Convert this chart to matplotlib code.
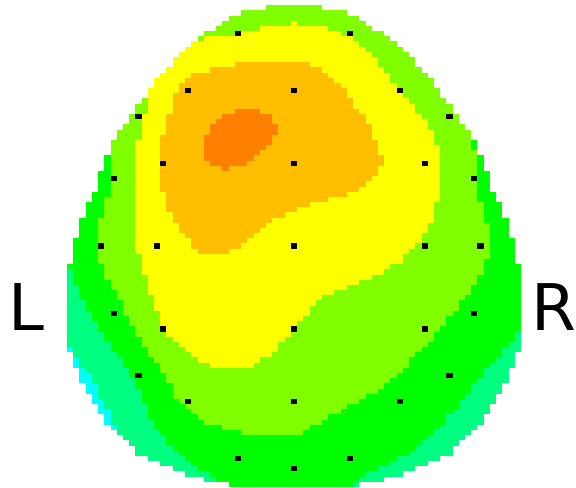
import numpy as np
import matplotlib.pyplot as plt
from matplotlib.colors import ListedColormap, BoundaryNorm

# electrode layout (scalp-map coordinates) and the value at each electrode
elec_x = [238, 350,
          188, 294, 400,
          139, 450,
          163, 294, 425,
          114, 475,
          101, 157, 294, 425, 481,
          114, 475,
          163, 294, 425,
          139, 450,
          188, 294, 400,
          238, 350,
          294]
elec_y = [34, 34,
          91, 91, 91,
          117, 117,
          164, 164, 164,
          179, 179,
          247, 247, 247, 247, 247,
          314, 314,
          330, 330, 330,
          376, 376,
          402, 402, 402,
          459, 459,
          469]
elec_v = [3.5, 3.4,
          4.75, 5.15, 3.5,
          3.3, 2.9,
          4.7, 5.15, 3.95,
          2.6, 2.5,
          2.6, 3.95, 3.95, 3.4, 2.65,
          2.15, 2.2,
          3.45, 3.5, 2.7,
          1.7, 1.85,
          2.7, 2.9, 2.2,
          2.0, 1.8,
          2.1]

level_colors = ['#00ffff', '#00ff80', '#00ff00', '#80ff00',
                '#ffff00', '#ffbf00', '#ff8000']
level_bounds = [-100, 0.5, 1.5, 2.5, 3.5, 4.5, 5.5, 100]

# head outline: row top -> half width about the midline
outline_y = np.array([6, 12, 17, 22, 27, 32, 37, 43, 48, 53, 58, 68, 74, 79, 89,
                      100, 105, 115, 125, 131, 141, 156, 172, 193, 203, 219, 239,
                      265, 353, 369, 384, 395, 405, 416, 426, 431, 436, 441, 446,
                      457, 462, 467, 472, 477, 482, 487])
outline_hw = np.array([28, 53, 66, 72, 78, 91, 97, 103, 109, 115, 122, 128, 134,
                       140, 147, 153, 159, 165, 171, 178, 184, 190, 196, 203, 209,
                       215, 221, 227, 221, 215, 209, 203, 196, 190, 184, 178, 171,
                       165, 159, 147, 134, 122, 109, 91, 66, 59])
mid_x = 294

# coarse raster the map is drawn on
cell_w, cell_h = 6.22, 5.18
x0 = mid_x - cell_w / 2 - 47 * cell_w
y0 = 0.92
ncols, nrows = 94, 94
cx = x0 + (np.arange(ncols) + 0.5) * cell_w
cy = y0 + (np.arange(nrows) + 0.5) * cell_h
gx, gy = np.meshgrid(cx, cy)


def tps_fit(xs, ys, vs, xq, yq):
    # thin plate spline through the electrode values
    px = np.asarray(xs, float) / 100.0
    py = np.asarray(ys, float) / 100.0
    v = np.asarray(vs, float)
    n = len(v)
    d = np.hypot(px[:, None] - px[None, :], py[:, None] - py[None, :])
    with np.errstate(divide='ignore', invalid='ignore'):
        K = np.where(d > 0, d**2 * np.log(d), 0.0)
    P = np.column_stack([np.ones(n), px, py])
    A = np.zeros((n + 3, n + 3))
    A[:n, :n] = K
    A[:n, n:] = P
    A[n:, :n] = P.T
    b = np.concatenate([v, np.zeros(3)])
    coef = np.linalg.solve(A, b)
    w, a = coef[:n], coef[n:]
    qx = xq.ravel() / 100.0
    qy = yq.ravel() / 100.0
    dq = np.hypot(qx[:, None] - px[None, :], qy[:, None] - py[None, :])
    with np.errstate(divide='ignore', invalid='ignore'):
        Kq = np.where(dq > 0, dq**2 * np.log(dq), 0.0)
    out = Kq @ w + a[0] + a[1] * qx + a[2] * qy
    return out.reshape(xq.shape)


field = tps_fit(elec_x, elec_y, elec_v, gx, gy)

# mask everything outside the head
tops = cy - cell_h / 2
idx = np.searchsorted(outline_y, tops + 1, side='right') - 1
hw = np.where(idx >= 0, outline_hw[np.clip(idx, 0, None)], -1)
inside = np.abs(gx - mid_x) < hw[:, None]
field = np.ma.masked_where(~inside, field)

# electrodes are single black cells
marks = np.zeros((nrows, ncols))
cols = np.floor((np.array(elec_x) - x0) / cell_w).astype(int)
rows = np.floor((np.array(elec_y) - y0) / cell_h).astype(int)
marks[rows, cols] = 1
marks = np.ma.masked_where(marks == 0, marks)

cmap = ListedColormap(level_colors)
cmap.set_bad('white')
norm = BoundaryNorm(level_bounds, cmap.N)

fig = plt.figure(figsize=(5.76, 4.89), dpi=100)
ax = fig.add_axes([0, 0, 1, 1])
extent = (x0, x0 + ncols * cell_w, y0 + nrows * cell_h, y0)
ax.imshow(field, cmap=cmap, norm=norm, extent=extent, origin='upper',
          interpolation='nearest', aspect='auto')
ax.imshow(marks, cmap=ListedColormap(['black']), extent=extent, origin='upper',
          interpolation='nearest', aspect='auto')
ax.set_xlim(0, 576)
ax.set_ylim(489, 0)
ax.axis('off')

ax.text(8, 330, 'L', fontsize=46.4, ha='left', va='baseline')
ax.text(531, 330, 'R', fontsize=46.4, ha='left', va='baseline')

fig.savefig('out.png', dpi=100, facecolor='white')
